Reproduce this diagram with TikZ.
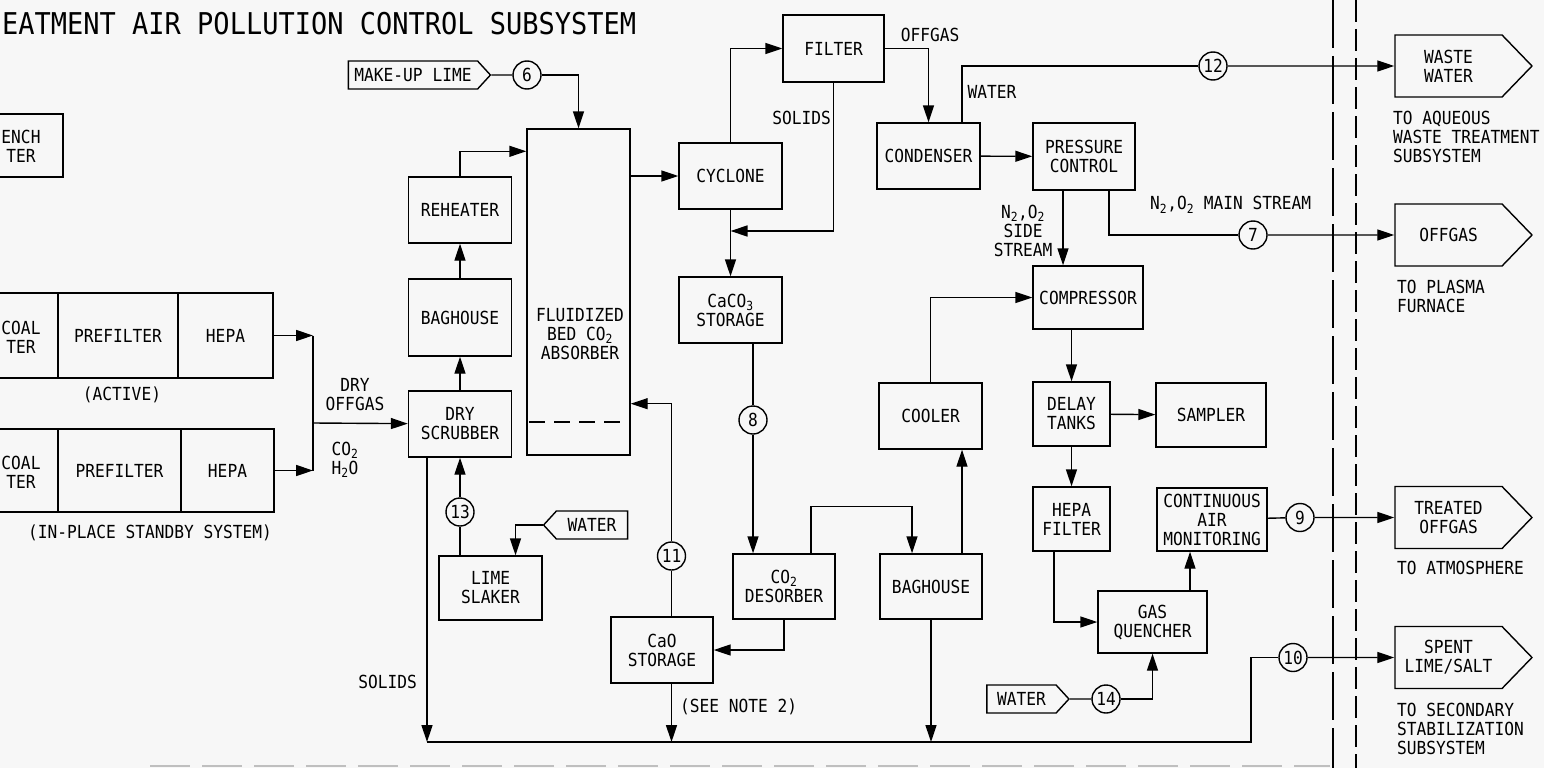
\documentclass[tikz,border=0pt]{standalone}
\usepackage{fontspec}
\setmainfont{DejaVu Sans Mono}[FakeStretch=0.9]
\usetikzlibrary{arrows.meta, shapes.symbols, calc}
\definecolor{paper}{RGB}{247,247,247}
\newcommand{\flowfont}{\fontsize{18}{19}\selectfont}
\newcommand{\titlefont}{\fontsize{30}{32}\selectfont}

\begin{document}
\begin{tikzpicture}[x=1pt, y=-1pt,
    box/.style={draw, line width=1.4pt, inner sep=0pt, align=center, font=\flowfont},
    txt/.style={inner sep=0pt, align=center, font=\flowfont},
    num/.style={circle, draw, line width=1.4pt, minimum size=28pt, inner sep=0pt, font=\flowfont},
    tag/.style={signal, draw, line width=1.4pt, inner sep=0pt, font=\flowfont, minimum height=28pt, signal pointer angle=95},
    outlet/.style={signal, signal to=east, draw, line width=1.4pt, inner sep=0pt, align=center, font=\flowfont, minimum width=137pt, minimum height=62pt, signal pointer angle=92},
    flow/.style={line width=1.4pt, -{Triangle[length=17pt, width=11pt]}},
    pipe/.style={line width=1.4pt},
    boundary/.style={line width=1.4pt, dash pattern=on 48pt off 8pt}
  ]
  \useasboundingbox (0,0) rectangle (1544,768);
  \clip (0,0) rectangle (1544,768);
  \fill[paper] (0,0) rectangle (1544,768);

  % title (cut at the left edge)
  \node[anchor=base west, inner sep=0pt, font=\titlefont] (title) at (2,35) {EATMENT AIR POLLUTION CONTROL SUBSYSTEM};

  % boundary lines
  \draw[boundary] (1333,0) -- (1333,768);
  \draw[line width=1.4pt, dash pattern=on 22pt off 7pt] (1356,0) -- (1356,768);
  \draw[gray!50, line width=1.4pt, dash pattern=on 40pt off 12pt] (150,766) -- (1330,766);

  % left filter trains
  \node[box, minimum width=126, minimum height=63] (quench) at (0,145.5) {};
  \node[txt] (quenchtxt) at (21,146) {ENCH\\TER};
  \node[box, minimum width=120, minimum height=85] (coal1) at (-2,335.5) {};
  \node[txt] (coal1txt) at (21,337) {COAL\\TER};
  \node[box, minimum width=120, minimum height=85] (pre1) at (118,335.5) {PREFILTER};
  \node[box, minimum width=95, minimum height=85] (hepa1) at (225.5,335.5) {HEPA};
  \node[box, minimum width=120, minimum height=83] (coal2) at (-2,470.5) {};
  \node[txt] (coal2txt) at (21,472) {COAL\\TER};
  \node[box, minimum width=123, minimum height=83] (pre2) at (119.5,470.5) {PREFILTER};
  \node[box, minimum width=93, minimum height=83] (hepa2) at (227.5,470.5) {HEPA};
  \node[txt] (active) at (122,395) {(ACTIVE)};
  \node[txt] (standby) at (150,533) {(IN-PLACE STANDBY SYSTEM)};
  \node[txt] (dryoff) at (355,395) {DRY\\OFFGAS};
  \node[txt] (coh) at (345,460) {CO\textsubscript{2}\\H\textsubscript{2}O};
  \coordinate (merge) at (313,423);

  % scrubber column and absorber
  \node[box, minimum width=103, minimum height=66] (scrubber) at (460,424) {DRY\\SCRUBBER};
  \node[box, minimum width=103, minimum height=77] (baghouse1) at (460,317.5) {BAGHOUSE};
  \node[box, minimum width=103, minimum height=66] (reheater) at (460,210) {REHEATER};
  \node[box, minimum width=103, minimum height=326] (absorber) at (578.5,292) {};
  \node[txt] (absorbertxt) at (580,334) {FLUIDIZED\\BED CO\textsubscript{2}\\ABSORBER};
  \draw[pipe, dash pattern=on 16pt off 9pt] (529,422) -- (627,422);
  \node[tag, signal to=east, minimum width=142] (makeup) at (413,75) {MAKE-UP LIME};
  \node[num] (n6) at (527,75) {6};
  \node[num] (n13) at (460,512) {13};
  \node[box, minimum width=103, minimum height=64] (slaker) at (490.5,588) {LIME\\SLAKER};
  \node[tag, signal to=west, minimum width=84] (water1) at (592,525) {WATER};
  \node[txt, anchor=east] (solids1) at (417,682) {SOLIDS};

  % lime regeneration
  \node[box, minimum width=103, minimum height=66] (cyclone) at (730.5,176) {CYCLONE};
  \node[box, minimum width=101, minimum height=67] (filter) at (833.5,48.5) {FILTER};
  \node[box, minimum width=103, minimum height=66] (caco3) at (730.5,310) {CaCO\textsubscript{3}\\STORAGE};
  \node[num] (n8) at (753,420) {8};
  \node[box, minimum width=102, minimum height=65] (desorber) at (784,586.5) {CO\textsubscript{2}\\DESORBER};
  \node[box, minimum width=102, minimum height=66] (cao) at (662,650) {CaO\\STORAGE};
  \node[num] (n11) at (671.5,556) {11};
  \node[box, minimum width=102, minimum height=65] (baghouse2) at (931,586.5) {BAGHOUSE};
  \node[box, minimum width=103, minimum height=66] (cooler) at (930.5,416) {COOLER};
  \node[txt, anchor=east] (solids2) at (831,118) {SOLIDS};
  \node[txt, anchor=west] (seenote) at (680,707) {(SEE NOTE 2)};
  \coordinate (solidsjoin) at (730.5,231);
  \coordinate (hdrL) at (427,742);
  \coordinate (hdrR) at (1251,742);

  % offgas train
  \node[box, minimum width=103, minimum height=66] (condenser) at (928.5,156) {CONDENSER};
  \node[box, minimum width=102, minimum height=67] (pressure) at (1084,156.5) {PRESSURE\\CONTROL};
  \node[box, minimum width=110, minimum height=63] (compressor) at (1088,297.5) {COMPRESSOR};
  \node[box, minimum width=77, minimum height=64] (delay) at (1071.5,414) {DELAY\\TANKS};
  \node[box, minimum width=110, minimum height=64] (sampler) at (1211,415) {SAMPLER};
  \node[box, minimum width=77, minimum height=64] (hepaf) at (1071.5,519) {HEPA\\FILTER};
  \node[box, minimum width=110, minimum height=63] (cam) at (1212,519.5) {CONTINUOUS\\AIR\\MONITORING};
  \node[box, minimum width=109, minimum height=62] (quencher) at (1152.5,622) {GAS\\QUENCHER};
  \node[tag, signal to=east, minimum width=82] (water2) at (1021.5,699) {WATER};
  \node[num] (n14) at (1106,699) {14};
  \node[num] (n12) at (1213,66) {12};
  \node[num] (n7) at (1253,235) {7};
  \node[num] (n9) at (1300,517.5) {9};
  \node[num] (n10) at (1293,657.5) {10};
  \node[txt] (offgaslbl) at (930,35) {OFFGAS};
  \node[txt] (waterlbl) at (992,92) {WATER};
  \node[txt] (side) at (1023,231) {N\textsubscript{2},O\textsubscript{2}\\SIDE\\STREAM};
  \node[txt, anchor=west] (main) at (1150,205) {N\textsubscript{2},O\textsubscript{2} MAIN STREAM};

  % outlets
  \node[outlet] (wastewater) at (1448.5,66) {WASTE\\WATER};
  \node[outlet] (offgasout) at (1448.5,235) {OFFGAS};
  \node[outlet] (treated) at (1448.5,517.5) {TREATED\\OFFGAS};
  \node[outlet] (spent) at (1448.5,657.5) {SPENT\\LIME/SALT};
  \node[txt, anchor=west, align=left] (towaste) at (1393,137) {TO AQUEOUS\\WASTE TREATMENT\\SUBSYSTEM};
  \node[txt, anchor=west, align=left] (toplasma) at (1397,296) {TO PLASMA\\FURNACE};
  \node[txt, anchor=west, align=left] (toatm) at (1397,568) {TO ATMOSPHERE};
  \node[txt, anchor=west, align=left] (tosec) at (1397,729) {TO SECONDARY\\STABILIZATION\\SUBSYSTEM};

  % connectors, left part
  \draw[flow] (hepa1.east) -- (hepa1.east -| merge);
  \draw[flow] (hepa2.east) -- (hepa2.east -| merge);
  \draw[pipe] (hepa1.east -| merge) -- (hepa2.east -| merge);
  \draw[flow] (merge) -- (scrubber);
  \draw[flow] (scrubber) -- (baghouse1);
  \draw[flow] (baghouse1) -- (reheater);
  \draw[flow] (reheater) |- ([yshift=-23]absorber.north west);
  \draw[pipe] (makeup) -- (n6);
  \draw[flow] (n6) -| (absorber);
  \draw[pipe] (slaker.north -| n13) -- (n13);
  \draw[flow] (n13) -- (n13 |- scrubber.south);
  \draw[flow] (water1) -| ([xshift=25]slaker.north);
  \draw[flow] (scrubber.south -| hdrL) -- (hdrL);

  % connectors, lime loop
  \draw[flow] (absorber.east |- cyclone) -- (cyclone);
  \draw[flow] (cyclone) |- (filter);
  \draw[flow] (filter) |- (solidsjoin);
  \draw[flow] (cyclone) -- (caco3);
  \draw[pipe] (caco3.south -| n8) -- (n8);
  \draw[flow] (n8) -- (n8 |- desorber.north);
  \draw[flow] ([xshift=27]desorber.north) -- ++(0,-47) -| ([xshift=-19]baghouse2.north);
  \draw[flow] (desorber) |- (cao);
  \draw[pipe] (n11) -- (n11 |- cao.north);
  \draw[flow] (n11) |- ([yshift=52]absorber.south east);
  \draw[flow] (cao.south -| n11) -- (n11 |- hdrL);
  \draw[flow] ([xshift=31]baghouse2.north) -- ([xshift=31]baghouse2.north |- cooler.south);
  \draw[flow] (cooler) |- (compressor);
  \draw[flow] (baghouse2) -- (baghouse2 |- hdrL);
  \draw[pipe] (hdrL) -- (hdrR) |- (n10);

  % connectors, offgas train
  \draw[flow] (filter) -| (condenser);
  \draw[pipe] ([xshift=33.5]condenser.north) |- (n12);
  \draw[flow] (n12) -- (wastewater);
  \draw[flow] (condenser) -- (pressure);
  \draw[flow] ([xshift=-21]pressure.south) -- ([xshift=-21]pressure.south |- compressor.north);
  \draw[pipe] ([xshift=25]pressure.south) |- (n7);
  \draw[flow] (n7) -- (offgasout);
  \draw[flow] (compressor.south -| delay) -- (delay);
  \draw[flow] (delay) -- (sampler);
  \draw[flow] (delay) -- (hepaf);
  \draw[flow] ([xshift=-17.5]hepaf.south) |- (quencher);
  \draw[flow] ([xshift=37.5]quencher.north) -- ([xshift=37.5]quencher.north |- cam.south);
  \draw[pipe] (cam) -- (n9);
  \draw[flow] (n9) -- (treated);
  \draw[pipe] (water2) -- (n14);
  \draw[flow] (n14) -| (quencher);
  \draw[flow] (n10) -- (spent);
\end{tikzpicture}
\end{document}
